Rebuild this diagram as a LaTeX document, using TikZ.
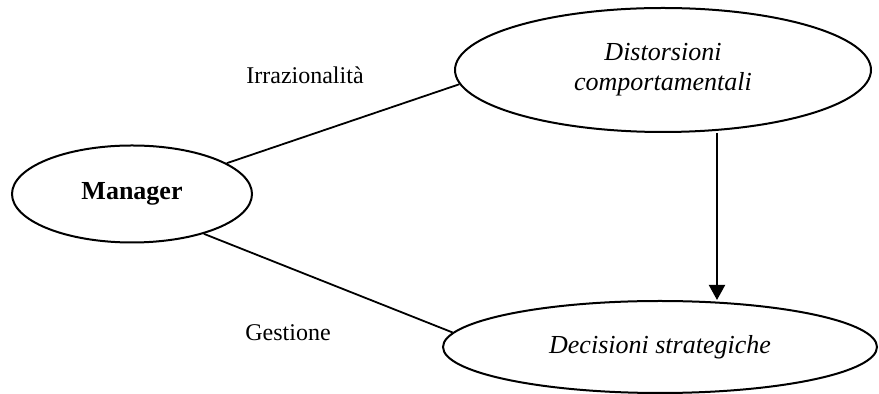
\documentclass[tikz,border=0pt]{standalone}
\usepackage{fontspec}
\setmainfont{Liberation Serif}
\usetikzlibrary{shapes.geometric,arrows.meta}
\begin{document}
\begin{tikzpicture}[x=0.5pt,y=-0.5pt,
  oval/.style={ellipse,draw,line width=1pt,inner sep=0pt,align=center,
    font=\fontsize{13}{15}\selectfont},
  link/.style={line width=0.9pt},
  arr/.style={line width=1pt,-{Triangle[width=8pt,length=7.5pt]}},
  lbl/.style={font=\fontsize{12}{14}\selectfont}]
\useasboundingbox (0,0) rectangle (879,394);
\node[oval,minimum width=120pt,minimum height=48.5pt] (m) at (132,194) {\textbf{Manager}};
\node[oval,minimum width=208pt,minimum height=62pt] (d) at (663,70)
  {\itshape Distorsioni\\\itshape comportamentali};
\node[oval,minimum width=217pt,minimum height=46pt] (s) at (660,347)
  {\itshape Decisioni strategiche};
\draw[link] (m.18.6) -- (d.184.7);
\draw[link] (m.-29) -- (s.176);
\path (d.center) ++(54,0) coordinate (ax);
\draw[arr] (ax |- d.south) -- (ax |- s.north);
\node[lbl] (l1) at (305,75) {Irrazionalità};
\node[lbl] (l2) at (288,333) {Gestione};
\end{tikzpicture}
\end{document}
